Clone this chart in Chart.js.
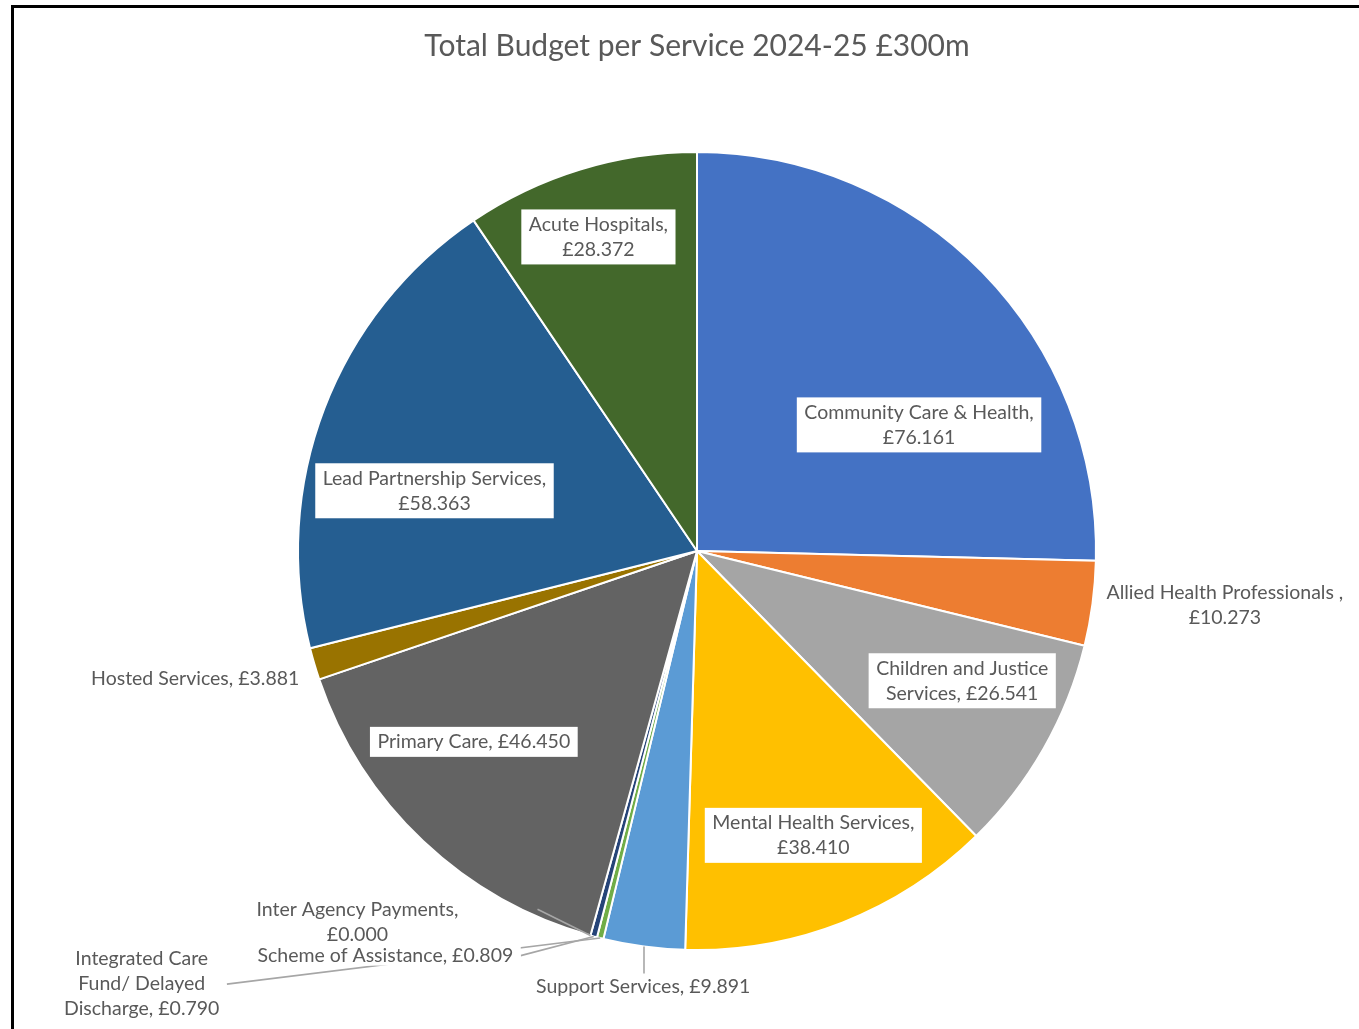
<!DOCTYPE html>
<html>
<head>
<meta charset="utf-8">
<title>Total Budget per Service 2024-25</title>
<script src="https://cdn.jsdelivr.net/npm/chart.js@4.4.1/dist/chart.umd.min.js"></script>
<style>
  html, body { margin: 0; padding: 0; background: #fff; overflow: hidden; }
  #wrap { position: relative; width: 1359px; height: 1029px; }
  #frame {
    position: absolute; left: 11px; top: 5px; width: 1400px; height: 1100px;
    border-left: 3px solid #000; border-top: 3px solid #000; pointer-events: none;
  }
  canvas { position: absolute; left: 0; top: 0; }
</style>
</head>
<body>
<div id="wrap">
  <canvas id="budgetChart" width="1359" height="1029"></canvas>
  <div id="frame"></div>
</div>
<script>
// Budget per service, £m (2024-25)
const services = [
  'Community Care & Health',
  'Allied Health Professionals ',
  'Children and Justice Services',
  'Mental Health Services',
  'Support Services',
  'Integrated Care Fund/ Delayed Discharge',
  'Scheme of Assistance',
  'Inter Agency Payments',
  'Primary Care',
  'Hosted Services',
  'Lead Partnership Services',
  'Acute Hospitals'
];
const budgets = [76.161, 10.273, 26.541, 38.410, 9.891, 0.790, 0.809, 0.000, 46.450, 3.881, 58.363, 28.372];
const sliceColours = [
  '#4472C4', '#ED7D31', '#A5A5A5', '#FFC000', '#5B9BD5', '#70AD47',
  '#264478', '#9E480E', '#636363', '#997300', '#255E91', '#43682B'
];

const FONT_FAMILY = 'Lato, "Open Sans", sans-serif';
const LABEL_SIZE = 19.5;
const LINE_H = 25;
const TEXT_COLOUR = '#595959';
const LEADER_COLOUR = '#A6A6A6';

// where each label sits: r = distance in radii, shift = degrees from the slice's mid angle
// box = white box behind text, wrap = max line width, leader = how the leader line is drawn
const placement = [
  { r: 0.64,  shift: 14.7, box: true,  wrap: 255 },
  { r: 1.33,  shift: -1.7, box: false, wrap: 265 },
  { r: 0.74,  shift: -3.6, box: true,  wrap: 190 },
  { r: 0.77,  shift: -0.9, box: true,  wrap: 225 },
  { r: 1.10,  shift: -0.6, box: false, wrap: 400, leader: 'top' },
  { r: 1.765, shift: 38,   box: false, wrap: 172, leader: 'right' },
  { r: 1.28,  shift: 22.6, box: false, wrap: 400, leader: 'right' },
  { r: 1.26,  shift: 27,   box: false, wrap: 225, leader: 'polar', from: [0.983, 8.5] },
  { r: 0.736, shift: 6.1,  box: true,  wrap: 400 },
  { r: 1.298, shift: 2.1,  box: false, wrap: 400 },
  { r: 0.675, shift: -8,   box: true,  wrap: 250 },
  { r: 0.825, shift: -0.4, box: true,  wrap: 160 }
];

function wrapText(ctx, text, maxW) {
  const words = text.split(' ');
  const lines = [];
  let cur = '';
  words.forEach((w) => {
    const test = cur ? cur + ' ' + w : w;
    if (cur && ctx.measureText(test).width > maxW) {
      lines.push(cur);
      cur = w;
    } else {
      cur = test;
    }
  });
  if (cur) lines.push(cur);
  return lines;
}

const sliceLabels = {
  id: 'sliceLabels',
  afterDatasetsDraw(chart) {
    const ctx = chart.ctx;
    const arcs = chart.getDatasetMeta(0).data;
    ctx.save();
    ctx.font = LABEL_SIZE + 'px ' + FONT_FAMILY;
    ctx.textBaseline = 'middle';
    ctx.textAlign = 'center';

    const labels = arcs.map((arc, i) => {
      const p = placement[i];
      const { x, y, startAngle, endAngle, outerRadius } =
        arc.getProps(['x', 'y', 'startAngle', 'endAngle', 'outerRadius'], true);
      const mid = (startAngle + endAngle) / 2;
      const a = mid + p.shift * Math.PI / 180;
      const cx = x + Math.cos(a) * outerRadius * p.r;
      const cy = y + Math.sin(a) * outerRadius * p.r;
      const text = services[i] + ', £' + budgets[i].toFixed(3);
      const lines = wrapText(ctx, text, p.wrap);
      const w = Math.max(...lines.map((l) => ctx.measureText(l).width)) + 15;
      const h = lines.length * LINE_H + 5;
      return { i, p, x, y, mid, outerRadius, cx, cy, lines, w, h };
    });

    // leader lines
    ctx.strokeStyle = LEADER_COLOUR;
    ctx.lineWidth = 1.6;
    labels.forEach((l) => {
      if (!l.p.leader) return;
      const ex = l.x + Math.cos(l.mid) * l.outerRadius;
      const ey = l.y + Math.sin(l.mid) * l.outerRadius;
      let sx, sy;
      if (l.p.leader === 'top') {
        sx = ex; sy = l.cy - l.h / 2 + 2;
      } else if (l.p.leader === 'right') {
        sx = l.cx + l.w / 2; sy = l.cy;
      } else {
        const a = l.mid + l.p.from[1] * Math.PI / 180;
        sx = l.x + Math.cos(a) * l.outerRadius * l.p.from[0];
        sy = l.y + Math.sin(a) * l.outerRadius * l.p.from[0];
      }
      ctx.beginPath();
      ctx.moveTo(sx, sy);
      ctx.lineTo(ex, ey);
      ctx.stroke();
    });

    // label boxes and text
    labels.forEach((l) => {
      if (l.p.box) {
        ctx.fillStyle = '#fff';
        ctx.fillRect(l.cx - l.w / 2, l.cy - l.h / 2, l.w, l.h);
      } else if (l.i === 6) {
        // scheme label covers the integrated care leader line
        ctx.fillStyle = '#fff';
        ctx.fillRect(l.cx - l.w / 2, l.cy - 10, l.w, 20);
      }
      ctx.fillStyle = TEXT_COLOUR;
      const top = l.cy - (l.lines.length - 1) * LINE_H / 2;
      l.lines.forEach((line, k) => ctx.fillText(line, l.cx, top + k * LINE_H));
    });
    ctx.restore();
  }
};

new Chart(document.getElementById('budgetChart'), {
  type: 'pie',
  data: {
    labels: services,
    datasets: [{
      data: budgets,
      backgroundColor: sliceColours,
      borderColor: '#ffffff',
      borderWidth: 2
    }]
  },
  options: {
    responsive: false,
    animation: false,
    devicePixelRatio: 1,
    layout: { padding: { left: 297, right: 262, top: 13, bottom: 78 } },
    plugins: {
      legend: { display: false },
      tooltip: { enabled: false },
      title: {
        display: true,
        text: 'Total Budget per Service 2024-25 £300m',
        color: TEXT_COLOUR,
        font: { family: FONT_FAMILY, size: 30, weight: 'normal' },
        padding: { top: 15, bottom: 87 }
      }
    }
  },
  plugins: [sliceLabels]
});
</script>
</body>
</html>
